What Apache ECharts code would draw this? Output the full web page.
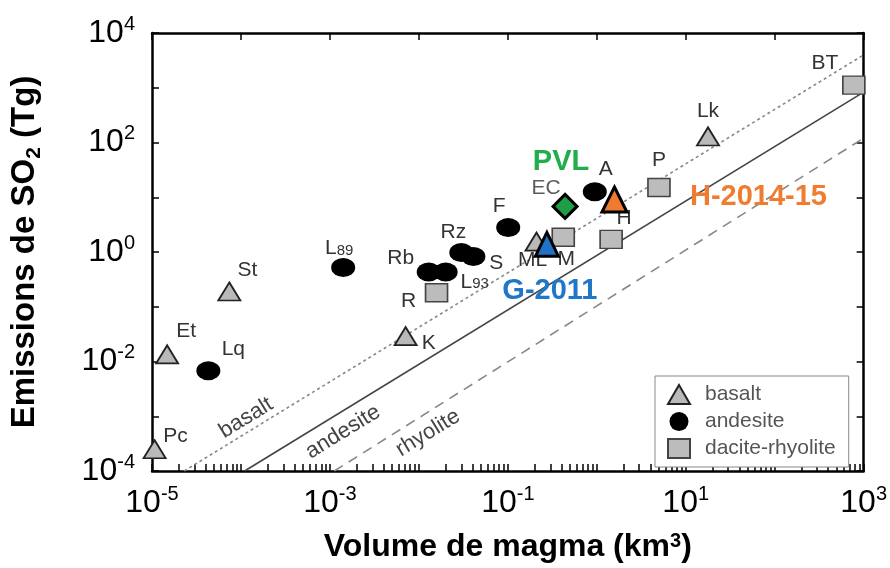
<!DOCTYPE html>
<html>
<head>
<meta charset="utf-8">
<script src="https://cdn.jsdelivr.net/npm/echarts@6/dist/echarts.min.js"></script>
<style>
  html, body { margin: 0; padding: 0; background: #fff; }
  #chart { width: 890px; height: 568px; }
</style>
</head>
<body>
<div id="chart"></div>
<script>
// points: [name, volume km3, SO2 Tg]
const basalt = [
  ["Pc", 1.07e-5, 2.5e-4],
  ["Et", 1.48e-5, 0.0135],
  ["St", 7.4e-5, 0.19],
  ["K", 7.1e-3, 0.029],
  ["ML", 0.21, 1.55],
  ["Lk", 17.8, 129]
];
const andesite = [
  ["Lq", 4.3e-5, 6.8e-3],
  ["L89", 1.41e-3, 0.52],
  ["Rb", 0.0129, 0.43],
  ["L93", 0.020, 0.43],
  ["Rz", 0.030, 0.98],
  ["S", 0.041, 0.83],
  ["F", 0.101, 2.8],
  ["A", 0.95, 12.6]
];
const daciteRhyolite = [
  ["R", 0.0158, 0.18],
  ["M", 0.42, 1.86],
  ["H", 1.45, 1.7],
  ["P", 5.0, 15.1],
  ["BT", 776, 1120]
];
// highlighted eruptions: [tag, point name, volume, SO2]
const highlights = [
  ["PVL", "EC", 0.44, 6.8],
  ["G-2011", "", 0.275, 1.38],
  ["H-2014-15", "", 1.58, 9.1]
];
// trend lines (end points)
const basaltLine = [[2.3e-5, 1e-4], [1e3, 3980]];
const andesiteLine = [[1.1e-4, 1e-4], [1e3, 830]];
const rhyoliteLine = [[1.12e-3, 1e-4], [1e3, 120]];

const xLabelValues = [1e-5, 1e-3, 1e-1, 1e1, 1e3];
const yLabelValues = [1e-4, 1e-2, 1, 1e2, 1e4];

// label offsets from the symbol centre, in px
const labelOffset = {
  Pc: [21, -13], Et: [19, -23], St: [18, -21], K: [23, 7], ML: [-4, 19], Lk: [0, -25],
  Lq: [25, -21], L89: [-4, -19], Rb: [-28, -14], L93: [29, 10], Rz: [-8, -20], S: [23, 7],
  F: [-9, -21], A: [11, -23], R: [-28, 8], M: [3, 22], H: [13, -21], P: [0, -27],
  BT: [-29, -22], EC: [-19, -18]
};
const tagStyle = {
  "PVL": { color: "#1fae4b", offset: [-4, -44], symbol: "diamond", size: [24, 24], fill: "#1e9f45" },
  "G-2011": { color: "#1f77c9", offset: [3, 47], symbol: "triangle", size: [23, 24], fill: "#1f72c6" },
  "H-2014-15": { color: "#f07c30", offset: [144, -2], symbol: "triangle", size: [25, 25], fill: "#ee7b2f" }
};

const decades = [];
for (let e = -6; e <= 4; e++) decades.push(Math.pow(10, e));
const minorX = [];
for (let e = -5; e < 3; e++) {
  for (let m = 1; m <= 9; m++) minorX.push(m * Math.pow(10, e));
}
minorX.push(1e3);

const FONT = "Liberation Sans";

function expLabel (v) {
  const e = Math.round(Math.log10(v));
  return "{b|10}{sup|" + e + "}";
}
const expRich = {
  b: { fontSize: 32, lineHeight: 38, fontFamily: FONT, color: "#000" },
  sup: { fontSize: 20, lineHeight: 20, verticalAlign: "top", fontFamily: FONT, color: "#000" }
};

function pointName (n) {
  const m = n.match(/^L(\d\d)$/);
  return m ? "{b|L}{s|" + m[1] + "}" : "{b|" + n + "}";
}
const pointRich = {
  b: { fontSize: 21, fontFamily: FONT, color: "#333" },
  s: { fontSize: 15, fontFamily: FONT, color: "#333", padding: [4, 0, 0, 0] }
};

function toData (rows) {
  return rows.map(r => ({
    name: r[0],
    value: [r[1], r[2]],
    label: {
      show: true,
      position: "inside",
      offset: labelOffset[r[0]] || [0, 0],
      formatter: pointName(r[0]),
      rich: pointRich
    }
  }));
}

const chart = echarts.init(document.getElementById("chart"));

const frameLine = { show: true, lineStyle: { color: "#000", width: 2.5 } };
const decadeTicks = { show: true, inside: true, length: 7, customValues: decades, lineStyle: { color: "#000", width: 1.5 } };

option = {
  animation: false,
  backgroundColor: "#fff",
  grid: { left: 152, right: 23, top: 33, bottom: 96 },
  legend: {
    orient: "vertical",
    left: 655,
    top: 376,
    data: ["basalt", "andesite", "dacite-rhyolite"],
    itemWidth: 22,
    itemHeight: 19,
    itemGap: 6,
    padding: [8, 13, 8, 12],
    borderColor: "#888",
    borderWidth: 1,
    backgroundColor: "#fff",
    textStyle: { fontSize: 21, fontFamily: FONT, color: "#555", padding: [0, 0, 0, 10] }
  },
  xAxis: [{
    type: "log",
    min: 1e-5,
    max: 1e3,
    position: "bottom",
    name: "Volume de magma (km{sup|3})",
    nameLocation: "middle",
    nameGap: 60,
    nameTextStyle: {
      fontSize: 32, fontWeight: "bold", fontFamily: FONT, color: "#000",
      rich: {
        sup: { fontSize: 20, fontWeight: "bold", verticalAlign: "top", lineHeight: 20, fontFamily: FONT, color: "#000" }
      }
    },
    axisLine: frameLine,
    axisTick: { show: true, inside: true, length: 7, customValues: minorX, lineStyle: { color: "#000", width: 1.5 } },
    axisLabel: { customValues: xLabelValues, formatter: expLabel, rich: expRich, margin: 13 },
    splitLine: { show: false }
  }, {
    type: "log",
    min: 1e-5,
    max: 1e3,
    position: "top",
    axisLine: frameLine,
    axisTick: decadeTicks,
    axisLabel: { show: false },
    splitLine: { show: false }
  }],
  yAxis: [{
    type: "log",
    min: 1e-4,
    max: 1e4,
    position: "left",
    name: "Emissions de SO{sub|2} (Tg)",
    nameLocation: "middle",
    nameRotate: 90,
    nameGap: 107,
    nameTextStyle: {
      fontSize: 33, fontWeight: "bold", fontFamily: FONT, color: "#000",
      rich: {
        sub: { fontSize: 21, fontWeight: "bold", verticalAlign: "bottom", lineHeight: 40, fontFamily: FONT, color: "#000" }
      }
    },
    axisLine: frameLine,
    axisTick: decadeTicks,
    axisLabel: { customValues: yLabelValues, formatter: expLabel, rich: expRich, margin: 17 },
    splitLine: { show: false }
  }, {
    type: "log",
    min: 1e-4,
    max: 1e4,
    position: "right",
    axisLine: frameLine,
    axisTick: decadeTicks,
    axisLabel: { show: false },
    splitLine: { show: false }
  }],
  series: [{
    type: "line",
    name: "basalt trend",
    data: basaltLine,
    symbol: "none",
    z: 1,
    lineStyle: { color: "#888", width: 1.6, type: [3, 3] }
  }, {
    type: "line",
    name: "andesite trend",
    data: andesiteLine,
    symbol: "none",
    z: 1,
    lineStyle: { color: "#444", width: 1.6 }
  }, {
    type: "line",
    name: "rhyolite trend",
    data: rhyoliteLine,
    symbol: "none",
    z: 1,
    lineStyle: { color: "#888", width: 1.6, type: [10, 7] }
  }, {
    type: "scatter",
    name: "basalt",
    symbol: "triangle",
    symbolSize: [22, 18],
    itemStyle: { color: "#b9b9b9", borderColor: "#222", borderWidth: 1.8, opacity: 1 },
    data: toData(basalt),
    z: 2
  }, {
    type: "scatter",
    name: "andesite",
    symbol: "circle",
    symbolSize: [24, 19],
    itemStyle: { color: "#000", opacity: 1 },
    data: toData(andesite),
    z: 2
  }, {
    type: "scatter",
    name: "dacite-rhyolite",
    symbol: "rect",
    symbolSize: [22, 18],
    itemStyle: { color: "#bcbcbc", borderColor: "#444", borderWidth: 1.5, opacity: 1 },
    data: toData(daciteRhyolite),
    z: 2
  }, {
    type: "scatter",
    name: "highlight",
    z: 4,
    data: highlights.map(h => {
      const s = tagStyle[h[0]];
      return {
        name: h[0],
        value: [h[2], h[3]],
        symbol: s.symbol,
        symbolSize: s.size,
        itemStyle: { color: s.fill, borderColor: "#000", borderWidth: 3, opacity: 1 },
        label: {
          show: true,
          position: "inside",
          offset: s.offset,
          formatter: h[0],
          fontSize: 29,
          fontWeight: "bold",
          fontFamily: FONT,
          color: s.color
        }
      };
    })
  }, {
    type: "scatter",
    name: "highlight names",
    z: 3,
    symbolSize: 0,
    silent: true,
    data: toData(highlights.filter(h => h[1]).map(h => [h[1], h[2], h[3]]))
  }],
  graphic: [
    { type: "text", x: 246, y: 418, rotation: 0.55, style: { text: "basalt", fontSize: 22, fontFamily: FONT, fill: "#444", align: "center", verticalAlign: "middle" } },
    { type: "text", x: 343, y: 432, rotation: 0.55, style: { text: "andesite", fontSize: 22, fontFamily: FONT, fill: "#444", align: "center", verticalAlign: "middle" } },
    { type: "text", x: 428, y: 433, rotation: 0.55, style: { text: "rhyolite", fontSize: 22, fontFamily: FONT, fill: "#444", align: "center", verticalAlign: "middle" } }
  ]
};

chart.setOption(option);
window.onresize = chart.resize;
</script>
</body>
</html>
